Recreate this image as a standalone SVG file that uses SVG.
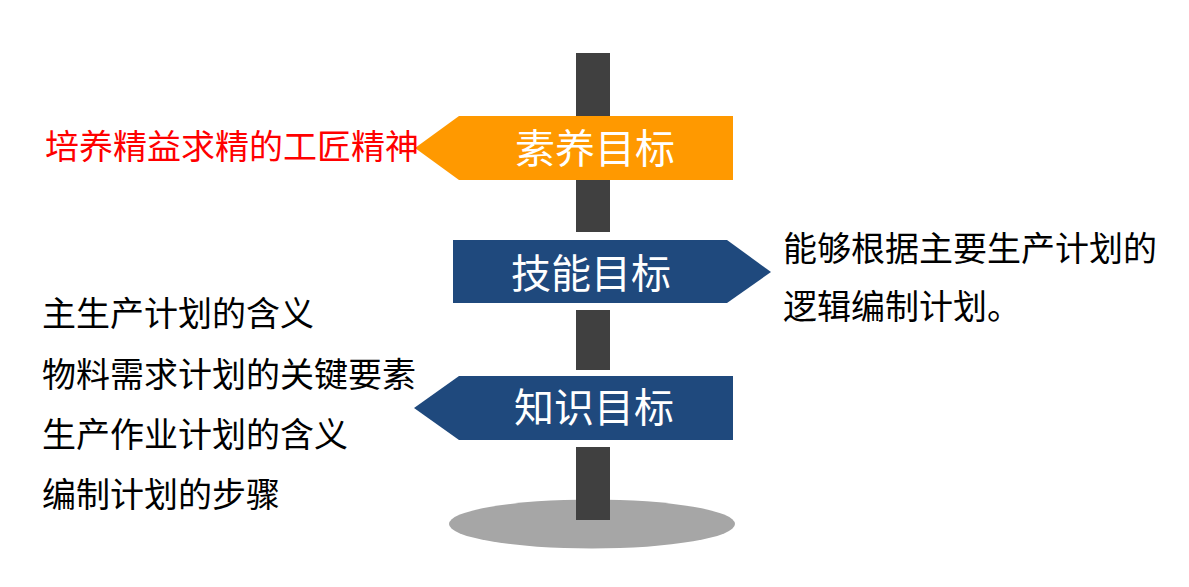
<svg xmlns="http://www.w3.org/2000/svg" width="1189" height="587" viewBox="0 0 1189 587">
<style>
.t{font-family:"Noto Sans CJK SC","Noto Sans",sans-serif;font-size:34px;fill:#000}
.red{fill:#FF0000}
.sign{font-family:"Noto Sans CJK SC","Noto Sans",sans-serif;font-size:40px;fill:#FFFFFF;text-anchor:middle}
.pole{fill:#404040}
.blue{fill:#1F497D}
</style>
<rect width="1189" height="587" fill="#FFFFFF"/>
<g id="base"><ellipse cx="592" cy="524" rx="143" ry="24.5" fill="#A6A6A6"/></g>
<g id="pole">
<rect class="pole" x="576" y="53" width="34" height="179"/>
<rect class="pole" x="576" y="310" width="34" height="60"/>
<rect class="pole" x="576" y="447" width="34" height="73"/>
</g>
<g id="sign-suyang">
<polygon points="415,148 459,116 733,116 733,180 459,180" fill="#FF9900"/>
<text class="sign" x="595" y="163">素养目标</text>
</g>
<g id="sign-jineng">
<polygon class="blue" points="453,240 727,240 771,272 727,303 453,303"/>
<text class="sign" x="591" y="288">技能目标</text>
</g>
<g id="sign-zhishi">
<polygon class="blue" points="414,408 459,376 733,376 733,440 459,440"/>
<text class="sign" x="594" y="422">知识目标</text>
</g>
<g id="text-suyang"><text class="t red" x="45" y="159">培养精益求精的工匠精神</text></g>
<g id="text-jineng">
<text class="t" x="783" y="261">能够根据主要生产计划的</text>
<text class="t" x="783" y="319">逻辑编制计划。</text>
</g>
<g id="text-zhishi">
<text class="t" x="42" y="326">主生产计划的含义</text>
<text class="t" x="42" y="387">物料需求计划的关键要素</text>
<text class="t" x="42" y="447">生产作业计划的含义</text>
<text class="t" x="42" y="507">编制计划的步骤</text>
</g>
<g id="connectors"></g>
</svg>
